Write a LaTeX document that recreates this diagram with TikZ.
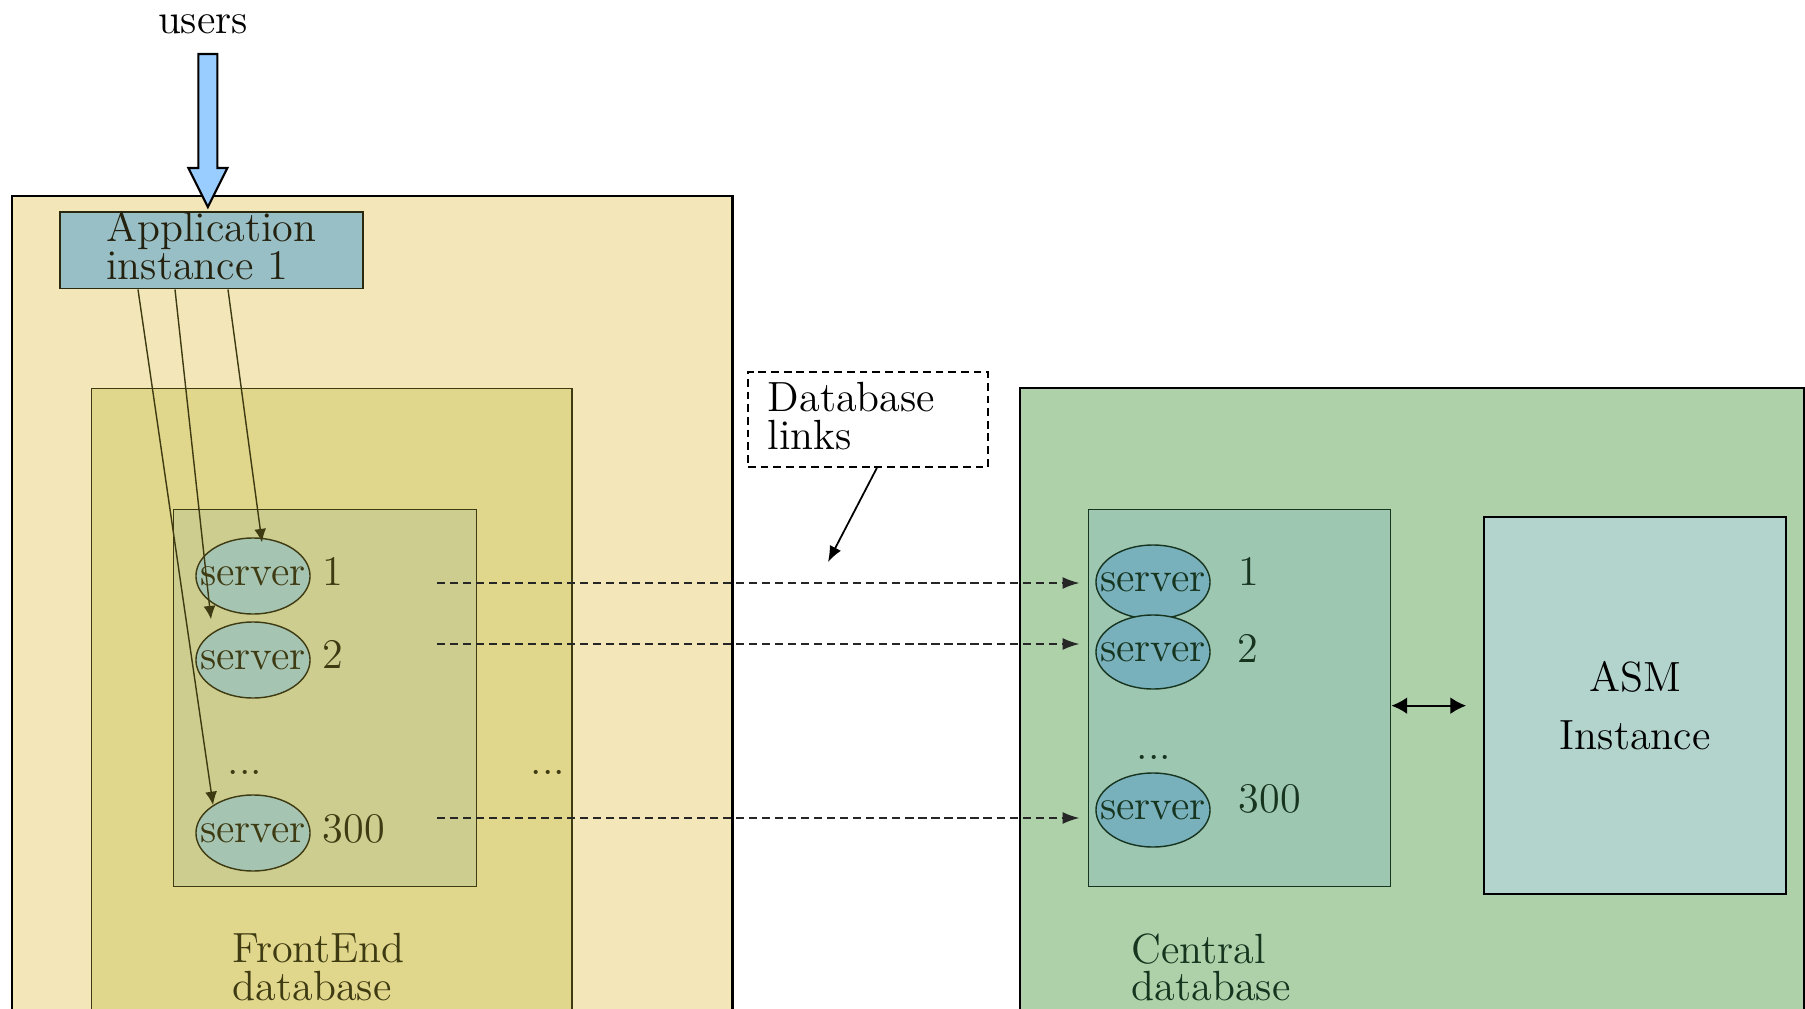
\documentclass[tikz,border=0pt]{standalone}
\usepackage{fontspec}
\usepackage{xcolor}
\usetikzlibrary{shapes.geometric,arrows.meta,calc}
\definecolor{frontouter}{RGB}{243,231,186}
\definecolor{frontinner}{RGB}{224,214,140}
\definecolor{frontsrv}{RGB}{204,205,142}
\definecolor{frontell}{RGB}{166,196,178}
\definecolor{frontink}{RGB}{62,58,18}
\definecolor{appfill}{RGB}{152,190,198}
\definecolor{appink}{RGB}{36,34,14}
\definecolor{usersblue}{RGB}{153,204,255}
\definecolor{centralouter}{RGB}{174,209,170}
\definecolor{centralsrv}{RGB}{158,199,178}
\definecolor{centralell}{RGB}{120,176,188}
\definecolor{centralink}{RGB}{22,52,30}
\definecolor{asmfill}{RGB}{178,212,204}
\tikzstyle{box}=[draw, rectangle, anchor=north west, inner sep=0]
\tikzstyle{srv}=[ellipse, draw, line width=.4pt, minimum width=1.14cm, minimum height=.76cm, inner sep=0]
\tikzstyle{tag}=[inner sep=0, anchor=north west, align=left]
\tikzset{txt/.style={font=\fontsize{12}{10.6}\selectfont}}
\tikzset{lbl/.style={txt, inner sep=0, anchor=base west}}
\tikzstyle{call}=[-{Latex[length=3.8pt,width=3.4pt]}, line width=.4pt, color=frontink]
\tikzstyle{link}=[-{Latex[length=4.8pt,width=3.4pt]}, dash pattern=on 2.3pt off 1.4pt, line width=.45pt, color=black!85, shorten >=4.5pt]
\tikzset{x=.01cm}
\tikzset{y=-.01cm}
\begin{document}
\begin{tikzpicture}
  \useasboundingbox (0,0) rectangle (1805,1009);
  \clip (0,0) rectangle (1805,1009);

  %% FrontEnd side
  \draw (11,195) node[box,line width=.65pt,fill=frontouter,minimum width=7.2cm,minimum height=8.4cm] (FEout) {};
  \draw (91,388) node[box,draw=frontink,line width=.4pt,fill=frontinner,minimum width=4.8cm,minimum height=6.4cm] (FE) {};
  \draw (173,509) node[box,draw=frontink,line width=.35pt,fill=frontsrv,minimum width=3.03cm,minimum height=3.77cm] (FEsrv) {};

  \draw (253,576) node[srv,draw=frontink,fill=frontell] (ls1) {};
  \draw (253,660) node[srv,draw=frontink,fill=frontell] (ls2) {};
  \draw (253,833) node[srv,draw=frontink,fill=frontell] (ls300) {};
  \draw (ls1) node[txt,text=frontink] (ls1t) {server};
  \draw (ls2) node[txt,text=frontink] (ls2t) {server};
  \draw (ls300) node[txt,text=frontink] (ls300t) {server};
  \draw (322,585) node[lbl,text=frontink] (ln1) {1};
  \draw (322,668) node[lbl,text=frontink] (ln2) {2};
  \draw (322,842) node[lbl,text=frontink] (ln300) {300};
  \draw (245,774) node[lbl,anchor=base,text=frontink] (ldots) {...};
  \draw (548,774) node[lbl,anchor=base,text=frontink] (fedots) {...};
  \draw (232,933) node[tag,txt,text=frontink] (FEname) {FrontEnd\\database};

  %% Application and users
  \draw (59,211) node[box,draw=frontink!70!black,line width=.45pt,fill=appfill,minimum width=3.03cm,minimum height=.76cm,text depth=2.7pt,align=left,txt,text=appink] (app) {Application\\instance 1};
  \draw (203,33) node[lbl,anchor=base] (users) {users};
  \coordinate (usertip) at ($(app.north)+(-3.5,-4)$);
  \draw[line width=.6pt,fill=usersblue] (usertip) -- ++(-19.5,-39) -- ++(10,0) -- ++(0,-114) -- ++(19,0) -- ++(0,114) -- ++(10,0) -- cycle;

  \draw[call] ($(app.south west)+(79,0)$) -- (ls300.145);
  \draw[call] ($(app.south west)+(116,0)$) -- ($(ls2.north)+(-42,-2)$);
  \draw[call] ($(app.south west)+(169,0)$) -- ($(ls1.north)+(9,5)$);

  %% Central side
  \draw (1019,387) node[box,line width=.65pt,fill=centralouter,minimum width=7.84cm,minimum height=6.4cm] (CDout) {};
  \draw (1088,509) node[box,draw=centralink,line width=.35pt,fill=centralsrv,minimum width=3.02cm,minimum height=3.77cm] (CDsrv) {};
  \draw (1483,516) node[box,line width=.6pt,fill=asmfill,minimum width=3.02cm,minimum height=3.77cm,align=center,font=\fontsize{12}{16.5}\selectfont] (asm) {ASM\\Instance};

  \draw (1153,582) node[srv,draw=centralink,fill=centralell,minimum height=.74cm] (rs1) {};
  \draw (1153,652) node[srv,draw=centralink,fill=centralell,minimum height=.74cm] (rs2) {};
  \draw (1153,810) node[srv,draw=centralink,fill=centralell,minimum height=.74cm] (rs300) {};
  \draw (rs1) node[txt,text=centralink] (rs1t) {server};
  \draw (rs2) node[txt,text=centralink] (rs2t) {server};
  \draw (rs300) node[txt,text=centralink] (rs300t) {server};
  \draw (1238,585) node[lbl,text=centralink] (rn1) {1};
  \draw (1237,662) node[lbl,text=centralink] (rn2) {2};
  \draw (1238,812) node[lbl,text=centralink] (rn300) {300};
  \draw (1154,759) node[lbl,anchor=base,text=centralink] (rdots) {...};
  \draw (1131,933) node[tag,txt,text=centralink] (CDname) {Central\\database};

  \draw[{Latex[length=4.5pt,width=4.8pt]}-{Latex[length=4.5pt,width=4.8pt]},line width=.5pt,shorten >=4.8pt] (CDsrv.east |- asm.west) -- (asm.west);

  %% Database links
  \coordinate (d1) at (437,583);
  \coordinate (d2) at (437,644);
  \coordinate (d300) at (437,818);
  \draw[link] (d1) -- (d1 -| rs1.west);
  \draw[link] (d2) -- (d2 -| rs2.west);
  \draw[link] (d300) -- (d300 -| rs300.west);

  \draw (747,371) node[box,fill=white,line width=.5pt,dash pattern=on 2.2pt off 1.4pt,text width=2cm,inner xsep=.2cm,minimum height=.95cm,text depth=12.6pt,align=left,txt] (dblinks) {Database\\links};
  \coordinate (dbtip) at (828,562);
  \draw[-{Latex[length=4.5pt,width=3.6pt]},line width=.5pt] ($(dblinks.south)+(9,0)$) -- (dbtip);
\end{tikzpicture}
\end{document}
